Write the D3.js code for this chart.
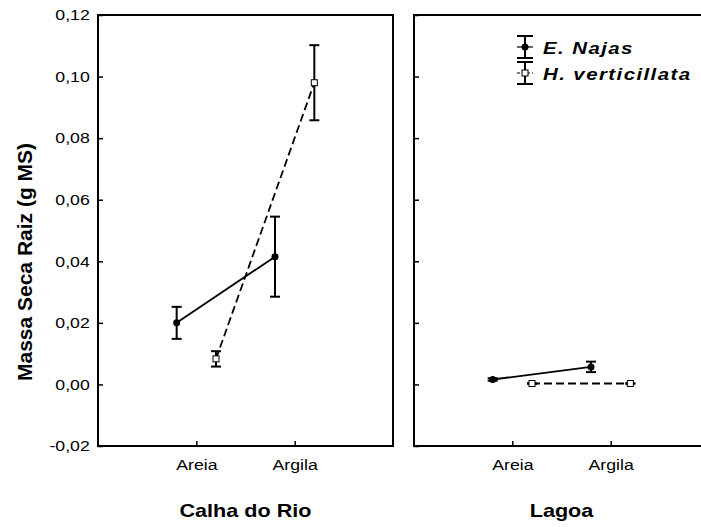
<!DOCTYPE html>
<meta charset="utf-8">
<html>
<head>
<title>Massa Seca Raiz</title>
<script src="https://cdnjs.cloudflare.com/ajax/libs/d3/7.8.5/d3.min.js"></script>
<style>
  body { margin: 0; background: #fff; }
  text { font-family: "Liberation Sans", Arial, sans-serif; fill: #000; }
</style>
</head>
<body>
<svg width="701" height="527"></svg>
<script>
// data
var categories = ["Areia", "Argila"];
var panels = ["Calha do Rio", "Lagoa"];
var seriesNames = ["E. Najas", "H. verticillata"];
var yTicks = [-0.02, 0, 0.02, 0.04, 0.06, 0.08, 0.10, 0.12];

// means and standard errors, [panel][category]
var najasMean = [[0.0200, 0.0415], [0.0016, 0.0057]];
var najasErr = [[0.0052, 0.0130], [0.0004, 0.0017]];
var hydMean = [[0.0083, 0.0980], [0.0003, 0.0003]];
var hydErr = [[0.0025, 0.0122], [0.0001, 0.0001]];

var svg = d3.select("svg");
var panelW = 295, plotTop = 15, plotBottom = 446;
var panelX = [98, 414];
var shift = [-0.2, 0.2]; // series offset inside a category, in category units
var sx = 1.18; // the original picture is a bit stretched sideways

var locale = d3.formatLocale({decimal: ",", thousands: ".", grouping: [3], currency: ["", ""], minus: "-"});
var fmt = locale.format(".2f");

var y = d3.scaleLinear().domain([-0.02, 0.12]).range([plotBottom, plotTop]);

var series = [
  {name: seriesNames[0], mean: najasMean, err: najasErr, dash: null, marker: "circle"},
  {name: seriesNames[1], mean: hydMean, err: hydErr, dash: "8,4", marker: "square"}
];

panels.forEach(function(pName, p) {
  var g = svg.append("g").attr("transform", "translate(" + panelX[p] + ",0)");
  var x = d3.scaleLinear().domain([0, 3]).range([0, panelW]);

  // frame
  g.append("rect")
    .attr("x", 0).attr("y", plotTop)
    .attr("width", panelW).attr("height", plotBottom - plotTop)
    .attr("fill", "none").attr("stroke", "#000").attr("stroke-width", 2);

  var yAxis = d3.axisLeft(y).tickValues(yTicks).tickSizeInner(-5).tickSizeOuter(0).tickPadding(7)
    .tickFormat(p === 0 ? fmt : "");
  var ya = g.append("g").call(yAxis);
  ya.select(".domain").remove();
  ya.selectAll("line").attr("stroke-width", 1.5);
  ya.selectAll("text").attr("font-size", 15).attr("transform", "scale(" + sx + ",1)");

  var xAxis = d3.axisBottom(x)
    .tickValues([1, 2]).tickSizeInner(-5).tickSizeOuter(0).tickPadding(13)
    .tickFormat(function(d) { return categories[d - 1]; });
  var xa = g.append("g").attr("transform", "translate(0," + plotBottom + ")").call(xAxis);
  xa.select(".domain").remove();
  xa.selectAll("line").attr("stroke-width", 1.5);
  xa.selectAll("text").attr("font-size", 15).attr("transform", "scale(" + sx + ",1)");

  g.append("text")
    .attr("transform", "translate(" + (panelW / 2) + ",517) scale(1.2,1)")
    .attr("text-anchor", "middle")
    .attr("font-size", 18).attr("font-weight", "bold")
    .text(pName);

  series.forEach(function(s, k) {
    var pts = categories.map(function(c, i) {
      return {x: x(i + 1 + shift[k]), m: s.mean[p][i], e: s.err[p][i]};
    });

    g.append("path")
      .attr("d", d3.line().x(function(d) { return d.x; }).y(function(d) { return y(d.m); })(pts))
      .attr("fill", "none").attr("stroke", "#000").attr("stroke-width", 1.8)
      .attr("stroke-dasharray", s.dash);

    pts.forEach(function(d) {
      g.append("line")
        .attr("x1", d.x).attr("x2", d.x)
        .attr("y1", y(d.m - d.e)).attr("y2", y(d.m + d.e))
        .attr("stroke", "#000").attr("stroke-width", 2);
      [d.m - d.e, d.m + d.e].forEach(function(v) {
        g.append("line")
          .attr("x1", d.x - 5).attr("x2", d.x + 5)
          .attr("y1", y(v)).attr("y2", y(v))
          .attr("stroke", "#000").attr("stroke-width", 2);
      });
      if (s.marker === "circle") {
        g.append("circle").attr("cx", d.x).attr("cy", y(d.m)).attr("r", 3.5).attr("fill", "#000");
      } else {
        g.append("rect").attr("x", d.x - 3).attr("y", y(d.m) - 3)
          .attr("width", 6).attr("height", 6)
          .attr("fill", "#fff").attr("stroke", "#000").attr("stroke-width", 1);
      }
    });
  });
});

// y axis title
svg.append("text")
  .attr("transform", "translate(32,262) rotate(-90)")
  .attr("text-anchor", "middle")
  .attr("font-size", 21).attr("font-weight", "bold")
  .text("Massa Seca Raiz (g MS)");

// legend
var legend = svg.append("g").attr("transform", "translate(525,47)");
series.forEach(function(s, k) {
  var lg = legend.append("g").attr("transform", "translate(0," + (k * 26) + ")");
  lg.append("line").attr("x1", 0).attr("x2", 0).attr("y1", -11).attr("y2", 11)
    .attr("stroke", "#000").attr("stroke-width", 2);
  [-11, 11].forEach(function(v) {
    lg.append("line").attr("x1", -8).attr("x2", 8).attr("y1", v).attr("y2", v)
      .attr("stroke", "#000").attr("stroke-width", 2);
  });
  lg.append("line").attr("x1", -8).attr("x2", 8).attr("y1", 0).attr("y2", 0)
    .attr("stroke", "#000").attr("stroke-width", 1.2)
    .attr("stroke-dasharray", s.dash ? "3,2" : null);
  if (s.marker === "circle") {
    lg.append("circle").attr("r", 3.5).attr("fill", "#000");
  } else {
    lg.append("rect").attr("x", -3).attr("y", -3).attr("width", 6).attr("height", 6)
      .attr("fill", "#fff").attr("stroke", "#000").attr("stroke-width", 1);
  }
  lg.append("text")
    .attr("transform", "translate(18,6.5) scale(1.2,1)")
    .attr("font-size", 17).attr("font-weight", "bold").attr("font-style", "italic")
    .attr("letter-spacing", 1.2)
    .text(s.name);
});
</script>
</body>
</html>
